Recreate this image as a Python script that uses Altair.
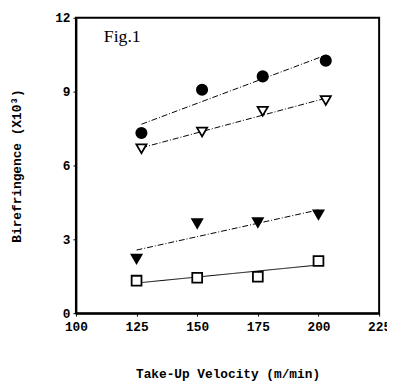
import altair as alt
import pandas as pd

series = ["filled circle", "open triangle", "filled triangle", "open square"]
x_circle = [127, 152, 177, 203]
y_circle = [7.32, 9.08, 9.62, 10.26]
x_open_tri = [127, 152, 177, 203]
y_open_tri = [6.68, 7.36, 8.2, 8.64]
x_filled_tri = [125, 150, 175, 200]
y_filled_tri = [2.2, 3.64, 3.68, 4.0]
x_square = [125, 150, 175, 200]
y_square = [1.32, 1.44, 1.48, 2.12]
x_ticks = [100, 125, 150, 175, 200, 225]
y_ticks = [0, 3, 6, 9, 12]

rows = []
for name, xs, ys in zip(series,
                        [x_circle, x_open_tri, x_filled_tri, x_square],
                        [y_circle, y_open_tri, y_filled_tri, y_square]):
    for xv, yv in zip(xs, ys):
        rows.append({"s": name, "v": xv, "b": yv})
df = pd.DataFrame(rows)

FONT = "Liberation Mono"
xscale = alt.Scale(domain=[100, 225], nice=False, zero=False)
yscale = alt.Scale(domain=[0, 12], nice=False)

xaxis = alt.Axis(values=x_ticks, title="Take-Up Velocity (m/min)", grid=False,
                 labelFont=FONT, labelFontWeight="bold", labelFontSize=13, labelColor="black",
                 titleFont=FONT, titleFontWeight="bold", titleFontSize=13, titleColor="black",
                 domainColor="black", domainWidth=2, tickColor="black", tickSize=3,
                 labelPadding=5, titlePadding=34, labelFlush=False)
yaxis = alt.Axis(values=y_ticks, title="Birefringence (X10³)", grid=False,
                 labelFont=FONT, labelFontWeight="bold", labelFontSize=13, labelColor="black",
                 titleFont=FONT, titleFontWeight="bold", titleFontSize=13, titleColor="black",
                 domainColor="black", domainWidth=2, tickColor="black", tickSize=3,
                 labelPadding=3, titlePadding=32, labelFlush=False)

base = alt.Chart(df)

lines = base.transform_regression("v", "b", groupby=["s"]).mark_line(
    color="black", strokeWidth=1
).encode(
    x=alt.X("v:Q", scale=xscale, axis=xaxis),
    y=alt.Y("b:Q", scale=yscale, axis=yaxis),
    strokeDash=alt.StrokeDash("s:N", scale=alt.Scale(
        domain=series, range=[[6, 2, 1, 2], [6, 2, 1, 2], [6, 2, 1, 2], [1, 0]]), legend=None),
)

points = base.mark_point(filled=True, opacity=1, strokeWidth=1.8, stroke="black").encode(
    x=alt.X("v:Q", scale=xscale),
    y=alt.Y("b:Q", scale=yscale),
    shape=alt.Shape("s:N", scale=alt.Scale(
        domain=series, range=["circle", "triangle-down", "triangle-down", "square"]), legend=None),
    fill=alt.Fill("s:N", scale=alt.Scale(
        domain=series, range=["black", "white", "black", "white"]), legend=None),
    size=alt.Size("s:N", scale=alt.Scale(domain=series, range=[110, 100, 120, 80]), legend=None),
)

label_df = pd.DataFrame({"v": [111.5], "b": [11.2], "t": ["Fig.1"]})
fig_label = alt.Chart(label_df).mark_text(
    align="left", baseline="middle", font="Liberation Serif", fontSize=18, color="black"
).encode(x=alt.X("v:Q", scale=xscale), y=alt.Y("b:Q", scale=yscale), text="t:N")

chart = alt.layer(lines, points, fig_label).properties(
    width=308, height=300,
    autosize=alt.AutoSizeParams(type="none"),
    padding={"left": 69, "top": 7, "right": 8, "bottom": 70},
).configure_view(stroke="black", strokeWidth=2)

chart.save("out.html", embed_options={"renderer": "svg", "actions": False})
